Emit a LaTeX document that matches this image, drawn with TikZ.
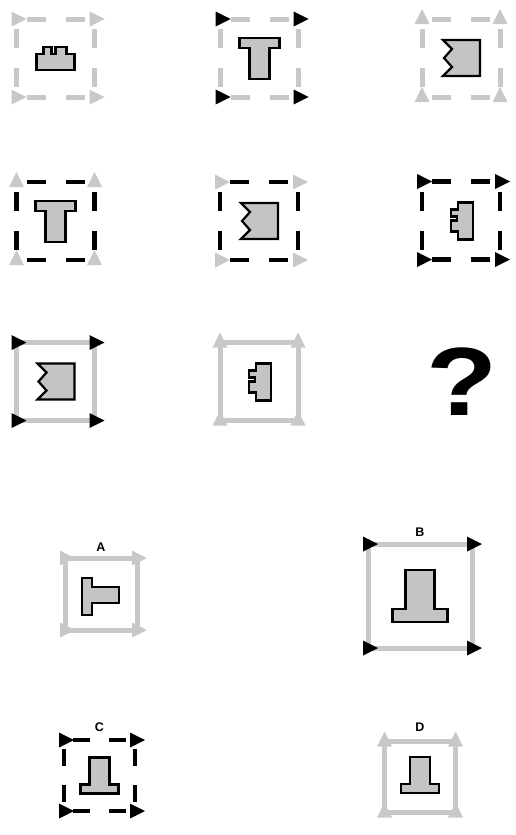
\documentclass[tikz,border=0pt]{standalone}
\usepackage{fontspec}
\setsansfont{Liberation Sans}
\usepackage{tikz}
\usetikzlibrary{positioning}
\usepackage{xcolor}
\definecolor{lgray}{RGB}{200,200,200}
\definecolor{pfill}{RGB}{196,196,196}
\tikzset{
  box/.style      ={draw, rectangle, minimum size=78pt, inner sep=0pt,
                    outer sep=0pt},
  grayline/.style ={box, draw=lgray, line width=5pt},
  blackline/.style={box, draw=black, line width=4.5pt},
  dashbox/.style  ={dash pattern=on 19pt off 20pt, dash phase=29pt},
  piece/.style    ={draw=black, fill=pfill, line width=2.2pt},
  optlab/.style   ={font=\sffamily\bfseries\fontsize{12.5}{14}\selectfont,
                    inner sep=0pt},
  qmark/.style    ={font=\sffamily\bfseries\fontsize{97}{97}\selectfont,
                    inner sep=0pt, xscale=1.2, transform shape},
  tipR/.pic={\fill (-5,-7.5) -- (10,0) -- (-5,7.5) -- cycle;},
  tipU/.pic={\fill (-7.5,5) -- (0,-10) -- (7.5,5) -- cycle;},
  castle/.pic={\filldraw[piece] (-19,12) -- (-19,-4) -- (-12,-4)
    -- (-12,-11) -- (-4,-11) -- (-4,-4) -- (0,-4) -- (0,-11) -- (11,-11)
    -- (11,-4) -- (19,-4) -- (19,12) -- cycle;},
  castleL/.pic={\filldraw[piece] (12,-18) -- (-3,-18) -- (-3,-11)
    -- (-10,-11) -- (-10,-4) -- (-4,-4) -- (-4,0) -- (-10,0) -- (-10,11)
    -- (-3,11) -- (-3,19) -- (12,19) -- cycle;},
  tee/.pic={\filldraw[piece] (-20,-20) -- (20,-20) -- (20,-10) -- (10,-10)
    -- (10,21) -- (-10,21) -- (-10,-10) -- (-20,-10) -- cycle;},
  teeL/.pic={\filldraw[piece] (-19,-16) -- (-9,-16) -- (-9,-7) -- (18,-7)
    -- (18,9) -- (-9,9) -- (-9,21) -- (-19,21) -- cycle;},
  invT/.pic={\filldraw[piece] (-10,-18) -- (10,-18) -- (10,9) -- (19,9)
    -- (19,18) -- (-19,18) -- (-19,9) -- (-10,9) -- cycle;},
  zig/.pic={\filldraw[piece] (-18,-18) -- (19,-18) -- (19,18) -- (-18,18)
    -- (-9,9) -- (-17,0) -- (-9,-9) -- cycle;},
}

\begin{document}
\begin{tikzpicture}[x=1pt, y=-1pt]
  \useasboundingbox (0,0) rectangle (516,835);
  % ---- row 1
  \node[grayline, dashbox] (p1) at (55.5,58) {};
  \node[grayline, dashbox] (p2) at (259.5,58) {};
  \node[grayline, dashbox] (p3) at (461,58) {};
  \pic at (p1.center) {castle};
  \pic at (p2.center) {tee};
  \pic at (p3.center) {zig};
  % ---- row 2
  \node[blackline, dashbox] (p4) at (55.5,221) {};
  \node[blackline, dashbox] (p5) at (259,221) {};
  \node[blackline, dashbox] (p6) at (461,220.5) {};
  \pic at (p4.center) {tee};
  \pic at (p5.center) {zig};
  \pic at (p6.center) {castleL};
  % ---- row 3
  \node[grayline] (p7) at (55.5,381.5) {};
  \node[grayline] (p8) at (259,381.5) {};
  \node[qmark] (qm) at (462,382) {?};
  \pic at (p7.center) {zig};
  \pic at (p8.center) {castleL};
  % ---- answer options
  \node[grayline, minimum size=72pt] (pa) at (101,594) {};
  \node[grayline, minimum size=104pt] (pb) at (420,596) {};
  \node[blackline, minimum size=71pt, dash pattern=on 17pt off 18.5pt,
        dash phase=26.25pt] (pc) at (99.5,775.5) {};
  \node[grayline, minimum size=71pt] (pd) at (420,777) {};
  \pic at (pa.center) {teeL};
  \pic[scale=1.45] at (pb.center) {invT};
  \pic at (pc.center) {invT};
  \pic at ([yshift=2pt]pd.center) {invT};
  \node[optlab, above=6.5pt of pa] (la) {A};
  \node[optlab, above=7.5pt of pb] (lb) {B};
  \node[optlab, above=8.5pt of pc] (lc) {C};
  \node[optlab, above=10pt of pd] (ld) {D};
  % ---- corner tips
  \foreach \a in {north west,north east,south west,south east} {
    \pic[color=lgray] at (p1.\a) {tipR};
    \pic[color=black] at (p2.\a) {tipR};
    \pic[color=lgray] at (p3.\a) {tipU};
    \pic[color=lgray] at (p4.\a) {tipU};
    \pic[color=lgray] at (p5.\a) {tipR};
    \pic[color=black] at (p6.\a) {tipR};
    \pic[color=black] at (p7.\a) {tipR};
    \pic[color=lgray] at (p8.\a) {tipU};
    \pic[color=lgray] at (pa.\a) {tipR};
    \pic[color=black] at (pb.\a) {tipR};
    \pic[color=black] at (pc.\a) {tipR};
    \pic[color=lgray] at (pd.\a) {tipU};
  }
\end{tikzpicture}
\end{document}
